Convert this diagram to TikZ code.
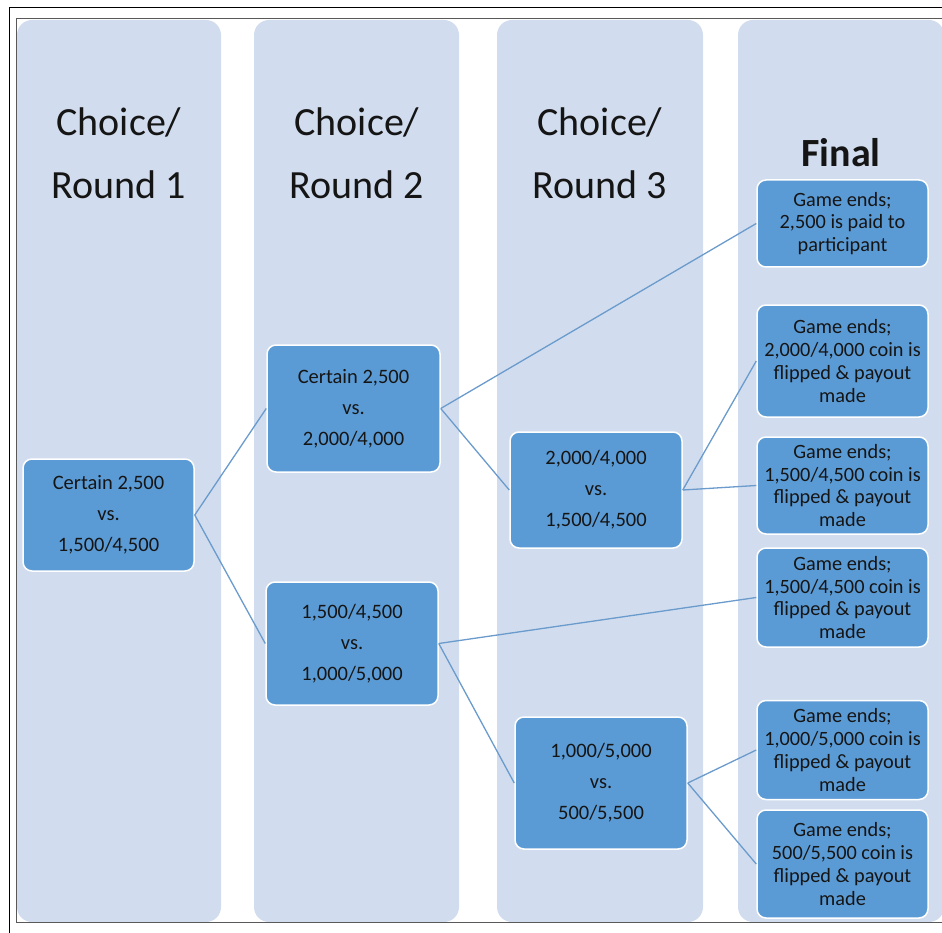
\documentclass[tikz,border=0pt]{standalone}
\usepackage{fontspec}
\setmainfont{Carlito}
\definecolor{colfill}{HTML}{D1DDEE}
\definecolor{boxfill}{HTML}{5B9BD5}
\definecolor{linkcol}{HTML}{6A9BCC}
\definecolor{txt}{HTML}{151515}
\begin{document}
\begin{tikzpicture}[x=1pt,y=-1pt,
  column/.style={fill=colfill, rounded corners=15pt},
  header/.style={font=\fontsize{40}{63}\selectfont, align=center, text=txt, inner sep=0pt},
  choicebox/.style={draw=white, line width=1.5pt, fill=boxfill, rounded corners=9pt,
    align=center, text=txt, font=\fontsize{20.5}{31}\selectfont, inner sep=0pt},
  endbox/.style={choicebox, font=\fontsize{20.3}{22.7}\selectfont,
    minimum width=171pt},
  link/.style={draw=linkcol, line width=1.3pt}]
\useasboundingbox (0,0) rectangle (942,933);
\clip (0,0) rectangle (942,933);

% column panels
\fill[column] (17,20) rectangle (221,922);
\fill[column] (254,20) rectangle (459,922);
\fill[column] (497,20) rectangle (703,922);
\fill[column] (738,20) rectangle (944,922);

% frames
\draw[black, line width=1.6pt] (950,7.5) -- (9.5,7.5) -- (9.5,945);
\draw[black!65, line width=1pt] (950,19) -- (16,19) -- (16,922.5) -- (950,922.5);

% column headers
\node[header] (h1) at (119,153) {Choice/\\Round 1};
\node[header] (h2) at (357,153) {Choice/\\Round 2};
\node[header] (h3) at (600,153) {Choice/\\Round 3};
\node[header, font=\fontsize{40}{63}\selectfont\bfseries] (hf) at (841,153) {Final};

% choice boxes
\node[choicebox, minimum width=171pt, minimum height=112pt] (r1) at (108.5,515)
  {Certain 2,500\\vs.\\1,500/4,500};
\node[choicebox, minimum width=173pt, minimum height=127pt] (r2a) at (353.5,408.5)
  {Certain 2,500\\vs.\\2,000/4,000};
\node[choicebox, minimum width=172pt, minimum height=123pt] (r2b) at (352,643.5)
  {1,500/4,500\\vs.\\1,000/5,000};
\node[choicebox, minimum width=172pt, minimum height=116pt] (r3a) at (596,490)
  {2,000/4,000\\vs.\\1,500/4,500};
\node[choicebox, minimum width=172pt, minimum height=132pt] (r3b) at (601,783)
  {1,000/5,000\\vs.\\500/5,500};

% outcome boxes
\node[endbox, minimum height=87pt] (f1) at (842.5,223.5)
  {Game ends;\\2,500 is paid to\\participant};
\node[endbox, minimum height=112pt] (f2) at (842.5,361)
  {Game ends;\\2,000/4,000 coin is\\flipped \& payout\\made};
\node[endbox, minimum height=97pt] (f3) at (842.5,485.5)
  {Game ends;\\1,500/4,500 coin is\\flipped \& payout\\made};
\node[endbox, minimum height=99pt] (f4) at (842.5,597.5)
  {Game ends;\\1,500/4,500 coin is\\flipped \& payout\\made};
\node[endbox, minimum height=99pt] (f5) at (842.5,750)
  {Game ends;\\1,000/5,000 coin is\\flipped \& payout\\made};
\node[endbox, minimum height=108pt] (f6) at (842.5,864)
  {Game ends;\\500/5,500 coin is\\flipped \& payout\\made};

% connectors
\draw[link] (r1.east) -- (r2a.west);
\draw[link] (r1.east) -- (r2b.west);
\draw[link] (r2a.east) -- (f1.west);
\draw[link] (r2a.east) -- (r3a.west);
\draw[link] (r3a.east) -- (f2.west);
\draw[link] (r3a.east) -- (f3.west);
\draw[link] (r2b.east) -- (f4.west);
\draw[link] (r2b.east) -- (r3b.west);
\draw[link] (r3b.east) -- (f5.west);
\draw[link] (r3b.east) -- (f6.west);
\end{tikzpicture}
\end{document}
